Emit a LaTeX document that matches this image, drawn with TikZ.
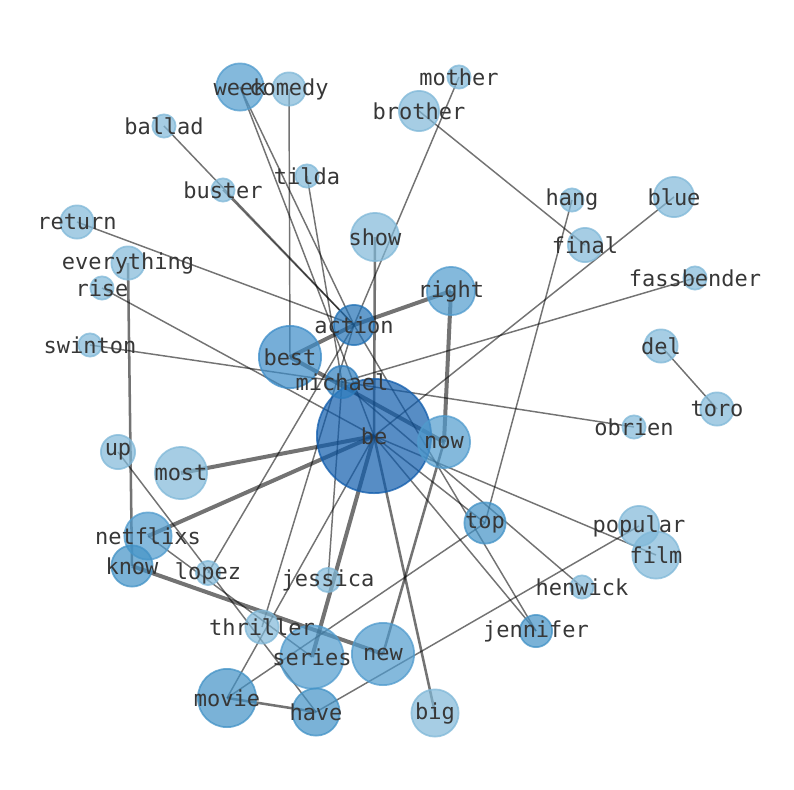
\documentclass[tikz,border=0pt]{standalone}
\usepackage{fontspec}
\newfontfamily\lblfont{DejaVu Sans Mono}
\pgfdeclarelayer{bg}
\pgfdeclarelayer{fg}
\pgfsetlayers{bg,main,fg}
\definecolor{cl}{RGB}{128,184,216}
\definecolor{cm}{RGB}{80,155,205}
\definecolor{cmd}{RGB}{66,146,198}
\definecolor{cbe}{RGB}{60,140,200}
\definecolor{cmi}{RGB}{45,125,190}
\definecolor{cact}{RGB}{33,113,181}
\definecolor{cbig}{RGB}{16,92,172}
\definecolor{txt}{RGB}{55,55,55}
\begin{document}
\begin{tikzpicture}[x=0.75pt,y=-0.75pt,
  nd/.style={circle,inner sep=0pt,line width=1.3pt,fill opacity=0.7,draw opacity=0.75,minimum size={1.5pt*#1-1.3pt}},
  cL/.style={fill=cl,draw=cl},
  cM/.style={fill=cm,draw=cm},
  cM2/.style={fill=cmd,draw=cmd},
  cBe/.style={fill=cbe,draw=cbe},
  cMi/.style={fill=cmi,draw=cmi},
  cA/.style={fill=cact,draw=cact},
  cB/.style={fill=cbig,draw=cbig},
  lbl/.style={inner sep=0pt,text=txt,font=\lblfont\fontsize{16.5}{18}\selectfont},
  ed/.style={draw=black,draw opacity=0.55,line width=1.1pt},
  edm/.style={ed,line width=1.9pt},
  edt/.style={ed,line width=3pt}]
\useasboundingbox (0,0) rectangle (794,790);
% nodes
\node[nd=58,cB] (be) at (374,436) {};
\node[nd=17,cMi] (michael) at (342,382) {};
\node[nd=21,cA] (action) at (354,325) {};
\node[nd=32,cBe] (best) at (290,357) {};
\node[nd=27,cM] (now) at (444,442) {};
\node[nd=25,cM] (right) at (451,291) {};
\node[nd=25,cL] (show) at (375,237) {};
\node[nd=24.5,cM] (week) at (240,87) {};
\node[nd=17.5,cL] (comedy) at (289,89) {};
\node[nd=12.5,cL] (tilda) at (307,176) {};
\node[nd=12.5,cL] (buster) at (223,190) {};
\node[nd=12.5,cL] (ballad) at (164,126) {};
\node[nd=17.5,cL] (return) at (77,222) {};
\node[nd=17.5,cL] (everything) at (128,263) {};
\node[nd=12.5,cL] (rise) at (102,288) {};
\node[nd=12.5,cL] (swinton) at (90,345) {};
\node[nd=12.5,cL] (mother) at (459,77) {};
\node[nd=21,cL] (brother) at (419,111) {};
\node[nd=12.5,cL] (hang) at (572,200) {};
\node[nd=18,cL] (final) at (585,245) {};
\node[nd=21,cL] (blue) at (674,197) {};
\node[nd=12.5,cL] (fassbender) at (695,278) {};
\node[nd=17.5,cL] (del) at (661,346) {};
\node[nd=17.5,cL] (toro) at (717,409) {};
\node[nd=12.5,cL] (obrien) at (634,427) {};
\node[nd=21.5,cM2] (top) at (485,523) {};
\node[nd=21,cL] (popular) at (639,526) {};
\node[nd=24.5,cL] (film) at (656,555) {};
\node[nd=12.5,cL] (henwick) at (582,587) {};
\node[nd=17,cM2] (jennifer) at (536,631) {};
\node[nd=18,cL] (up) at (118,452) {};
\node[nd=27,cL] (most) at (181,473) {};
\node[nd=24.5,cM] (netflixs) at (148,536) {};
\node[nd=21.5,cM2] (know) at (132,566) {};
\node[nd=13,cL] (lopez) at (208,573) {};
\node[nd=13,cL] (jessica) at (328,580) {};
\node[nd=17.5,cL] (thriller) at (262,627) {};
\node[nd=32.5,cM] (series) at (312,657) {};
\node[nd=32,cM] (new) at (383,654) {};
\node[nd=30,cM2] (movie) at (227,698) {};
\node[nd=24.5,cM2] (have) at (316,712) {};
\node[nd=24.5,cL] (big) at (435,713) {};
% edges
\begin{pgfonlayer}{bg}
\draw[edm] (show.center) -- (be.center);
\draw[ed] (week.center) -- (be.center);
\draw[ed] (week.center) -- (action.center);
\draw[ed] (comedy.center) -- (best.center);
\draw[ed] (ballad.center) -- (action.center);
\draw[ed] (buster.center) -- (action.center);
\draw[ed] (tilda.center) -- (michael.center);
\draw[ed] (return.center) -- (action.center);
\draw[edm] (everything.center) -- (know.center);
\draw[ed] (rise.center) -- (be.center);
\draw[ed] (swinton.center) -- (michael.center);
\draw[ed] (michael.center) -- (obrien.center);
\draw[ed] (mother.center) -- (action.center);
\draw[ed] (brother.center) -- (final.center);
\draw[ed] (hang.center) -- (top.center);
\draw[ed] (blue.center) -- (be.center);
\draw[ed] (fassbender.center) -- (michael.center);
\draw[ed] (del.center) -- (toro.center);
\draw[edt] (right.center) -- (action.center);
\draw[edt] (right.center) -- (now.center);
\draw[edt] (best.center) -- (action.center);
\draw[edt] (best.center) -- (now.center);
\draw[edt] (most.center) -- (be.center);
\draw[edt] (netflixs.center) -- (be.center);
\draw[ed] (netflixs.center) -- (series.center);
\draw[edt] (know.center) -- (new.center);
\draw[ed] (up.center) -- (have.center);
\draw[ed] (lopez.center) -- (action.center);
\draw[ed] (thriller.center) -- (action.center);
\draw[ed] (movie.center) -- (be.center);
\draw[ed] (jessica.center) -- (michael.center);
\draw[edt] (series.center) -- (be.center);
\draw[edm] (be.center) -- (big.center);
\draw[edm] (now.center) -- (new.center);
\draw[ed] (top.center) -- (movie.center);
\draw[ed] (popular.center) -- (have.center);
\draw[edm] (movie.center) -- (have.center);
\draw[ed] (be.center) -- (film.center);
\draw[ed] (be.center) -- (top.center);
\draw[ed] (be.center) -- (jennifer.center);
\draw[ed] (action.center) -- (jennifer.center);
\draw[ed] (michael.center) -- (henwick.center);
\end{pgfonlayer}
% labels
\begin{pgfonlayer}{fg}
\foreach \n in {be,michael,action,best,now,right,show,week,comedy,tilda,buster,ballad,return,everything,rise,swinton,mother,brother,hang,final,blue,fassbender,del,toro,obrien,top,popular,film,henwick,jennifer,up,most,netflixs,know,lopez,jessica,thriller,series,new,movie,have,big}
  \node[lbl] (t-\n) at (\n) {\n};
\end{pgfonlayer}
\end{tikzpicture}
\end{document}
